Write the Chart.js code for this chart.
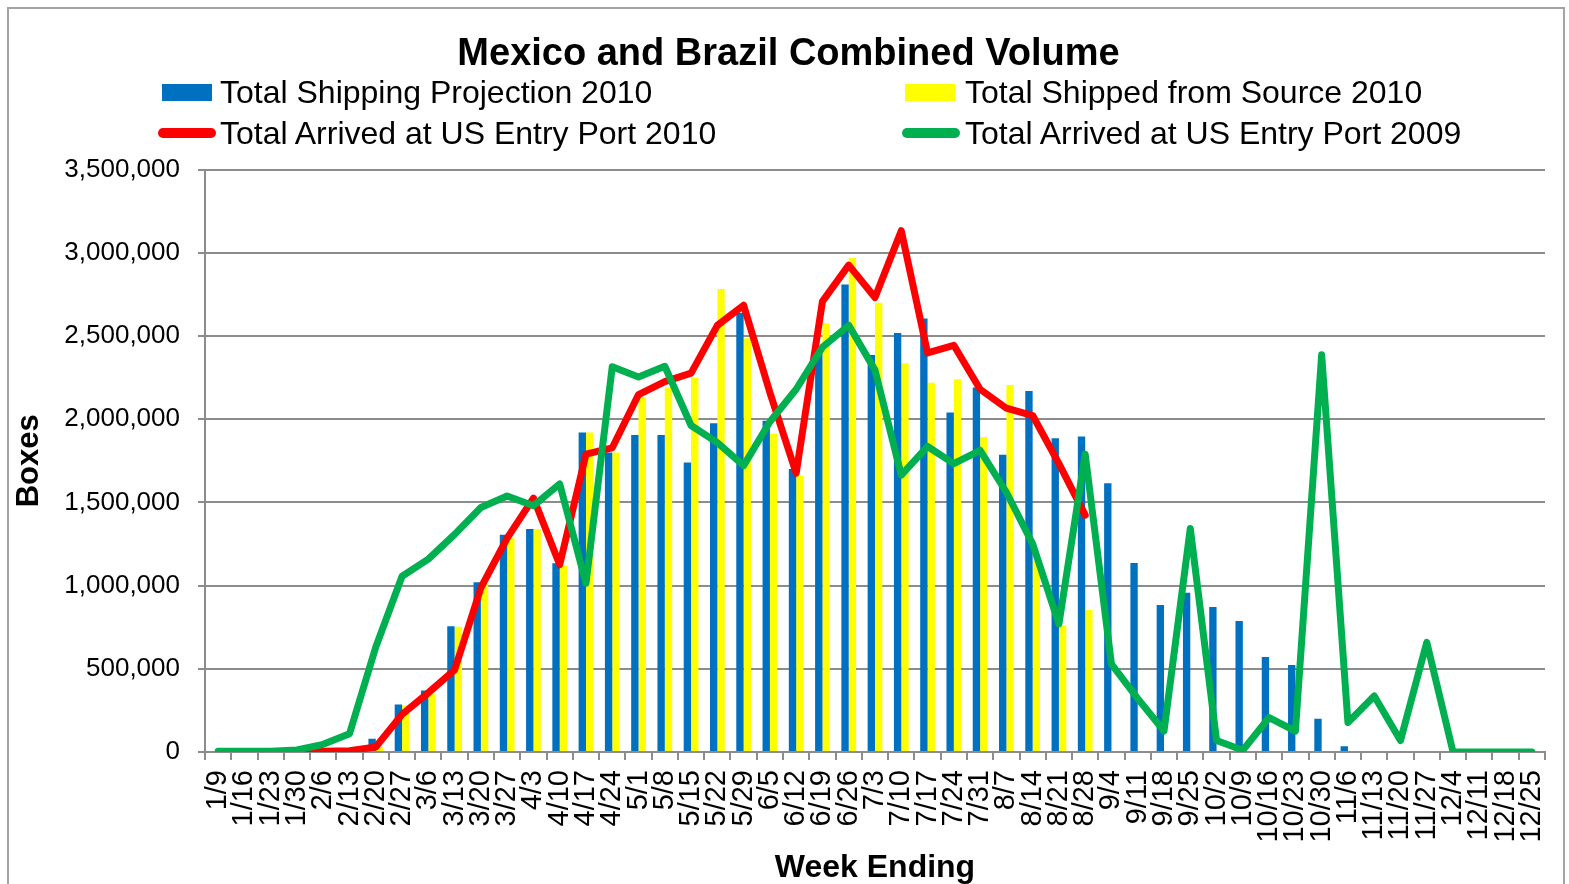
<!DOCTYPE html>
<html>
<head>
<meta charset="utf-8">
<script src="https://cdn.jsdelivr.net/npm/chart.js@4.4.1/dist/chart.umd.min.js"></script>
<style>
  body { margin: 0; background: #fff; }
  #wrap { position: relative; width: 1569px; height: 884px; overflow: hidden; }
  #frame { position: absolute; left: 7px; top: 7px; width: 1554px; height: 900px;
           border: 2px solid #a3a3a3; pointer-events: none; }
  .lg { position: absolute; height: 40px; display: flex; align-items: center;
        font-family: "Liberation Sans", Arial, sans-serif; font-size: 32px; color: #000;
        white-space: nowrap; }
  .lg span.sw { display: inline-block; }
</style>
</head>
<body>
<div id="wrap">
  <canvas id="volumeChart" width="1569" height="884"></canvas>
  <div id="frame"></div>
</div>
<script>
// week ending dates
const weeks = ["1/9","1/16","1/23","1/30","2/6","2/13","2/20","2/27","3/6","3/13","3/20","3/27",
  "4/3","4/10","4/17","4/24","5/1","5/8","5/15","5/22","5/29","6/5","6/12","6/19","6/26",
  "7/3","7/10","7/17","7/24","7/31","8/7","8/14","8/21","8/28","9/4","9/11","9/18","9/25",
  "10/2","10/9","10/16","10/23","10/30","11/6","11/13","11/20","11/27","12/4","12/11","12/18","12/25"];

const projection2010 = [null,null,null,null,null,null,80000,286000,370000,755000,1020000,1305000,
  1340000,1135000,1920000,1800000,1905000,1905000,1740000,1975000,2640000,1990000,1700000,2430000,2810000,
  2386000,2518000,2605000,2040000,2190000,1786000,2170000,1886000,1896000,1615000,1136000,884000,957000,
  872000,787000,571000,523000,200000,34000,null,null,null,null,null,null,null];

const shipped2010 = [null,null,null,null,null,null,30000,280000,347000,753000,1010000,1285000,
  1340000,1120000,1920000,1800000,2134000,2190000,2249000,2782000,2486000,1912000,1660000,2576000,2970000,
  2700000,2336000,2219000,2240000,1893000,2206000,1150000,760000,854000,null,null,null,null,
  null,null,null,null,null,null,null,null,null,null,null,null,null];

const arrived2010 = [null,null,null,0,5000,8000,30000,226000,356000,493000,987000,1285000,
  1526000,1125000,1790000,1828000,2148000,2226000,2277000,2564000,2685000,2160000,1675000,2708000,2926000,
  2731000,3133000,2398000,2444000,2180000,2066000,2022000,1733000,1423000,null,null,null,null,
  null,null,null,null,null,null,null,null,null,null,null,null,null];

const arrived2009 = [5000,5000,5000,12000,46000,110000,631000,1056000,1159000,1308000,1469000,1538000,
  1480000,1611000,1014000,2315000,2254000,2318000,1962000,1859000,1721000,1985000,2180000,2433000,2564000,
  2295000,1664000,1836000,1733000,1813000,1561000,1251000,769000,1790000,528000,321000,126000,1343000,
  69000,11000,207000,126000,2387000,177000,337000,69000,659000,0,0,0,0];

const yTicks = [0, 500000, 1000000, 1500000, 2000000, 2500000, 3000000, 3500000];

const FONT = "'Liberation Sans', Arial, sans-serif";

const ctx = document.getElementById("volumeChart").getContext("2d");
const chart = new Chart(ctx, {
  type: "bar",
  data: {
    labels: weeks,
    datasets: [
      {
        label: "Total Shipping Projection 2010",
        data: projection2010,
        backgroundColor: "#0070C0",
        categoryPercentage: 0.56,
        barPercentage: 1.0,
        order: 2,
      },
      {
        label: "Total Shipped from Source 2010",
        data: shipped2010,
        backgroundColor: "#FFFF00",
        categoryPercentage: 0.56,
        barPercentage: 1.0,
        order: 2,
      },
      {
        type: "line",
        label: "Total Arrived at US Entry Port 2010",
        data: arrived2010,
        borderColor: "#FF0000",
        backgroundColor: "#FF0000",
        borderWidth: 7,
        pointRadius: 0,
        borderCapStyle: "round",
        borderJoinStyle: "round",
        tension: 0,
        order: 1,
      },
      {
        type: "line",
        label: "Total Arrived at US Entry Port 2009",
        data: arrived2009,
        borderColor: "#00B050",
        backgroundColor: "#00B050",
        borderWidth: 7,
        pointRadius: 0,
        borderCapStyle: "round",
        borderJoinStyle: "round",
        tension: 0,
        order: 0,
      },
    ],
  },
  options: {
    responsive: false,
    animation: false,
    devicePixelRatio: 1,
    layout: { padding: { left: 8, right: 0, top: 0, bottom: 0 } },
    plugins: {
      legend: { display: false },
      tooltip: { enabled: false },
      title: {
        display: true,
        text: "Mexico and Brazil Combined Volume",
        color: "#000",
        font: { family: FONT, size: 38, weight: "bold" },
        padding: { top: 32, bottom: 92 },
      },
    },
    scales: {
      x: {
        grid: { drawOnChartArea: false, drawTicks: true, tickLength: 8, color: "#8c8c8c", lineWidth: 2, offset: true },
        border: { color: "#8c8c8c", width: 2 },
        ticks: { autoSkip: false, maxRotation: 90, minRotation: 90, color: "#000", padding: 10,
                 font: { family: FONT, size: 29 } },
        title: { display: true, text: "Week Ending", color: "#000",
                 font: { family: FONT, size: 32, weight: "bold" }, padding: { top: 0, bottom: -3 } },
        afterFit: (scale) => {
          scale.height = 132;
          // keep the plot's right edge where the original has it
          scale.paddingLeft = 0;
          scale.paddingRight = 24;
        },
      },
      y: {
        min: 0,
        max: 3500000,
        afterBuildTicks: (scale) => { scale.ticks = yTicks.map((v) => ({ value: v })); },
        grid: { color: "#8c8c8c", lineWidth: 2, tickLength: 7 },
        border: { color: "#8c8c8c", width: 2 },
        ticks: { color: "#000", padding: 18, font: { family: FONT, size: 26 },
                 callback: (v) => Number(v).toLocaleString("en-US") },
        title: { display: true, text: "Boxes", color: "#000",
                 font: { family: FONT, size: 31, weight: "bold" }, padding: { top: 3, bottom: 0 } },
        afterFit: (scale) => { scale.width = 197; },
      },
    },
  },
});

// legend laid out in two columns like the original
const legendSpots = [
  { left: 162, top: 72, textLeft: 220 },
  { left: 905, top: 72, textLeft: 965 },
  { left: 158, top: 113, textLeft: 220 },
  { left: 902, top: 113, textLeft: 965 },
];
const wrap = document.getElementById("wrap");
chart.data.datasets.forEach((ds, i) => {
  const spot = legendSpots[i];
  const item = document.createElement("div");
  item.className = "lg";
  item.style.left = spot.left + "px";
  item.style.top = spot.top + "px";
  const sw = document.createElement("span");
  sw.className = "sw";
  if (ds.type === "line") {
    sw.style.width = "58px";
    sw.style.height = "10px";
    sw.style.borderRadius = "5px";
    sw.style.background = ds.borderColor;
  } else {
    sw.style.width = "50px";
    sw.style.height = "17px";
    sw.style.background = ds.backgroundColor;
  }
  sw.style.marginRight = (spot.textLeft - spot.left - parseInt(sw.style.width)) + "px";
  item.appendChild(sw);
  item.appendChild(document.createTextNode(ds.label));
  wrap.appendChild(item);
});
</script>
</body>
</html>
